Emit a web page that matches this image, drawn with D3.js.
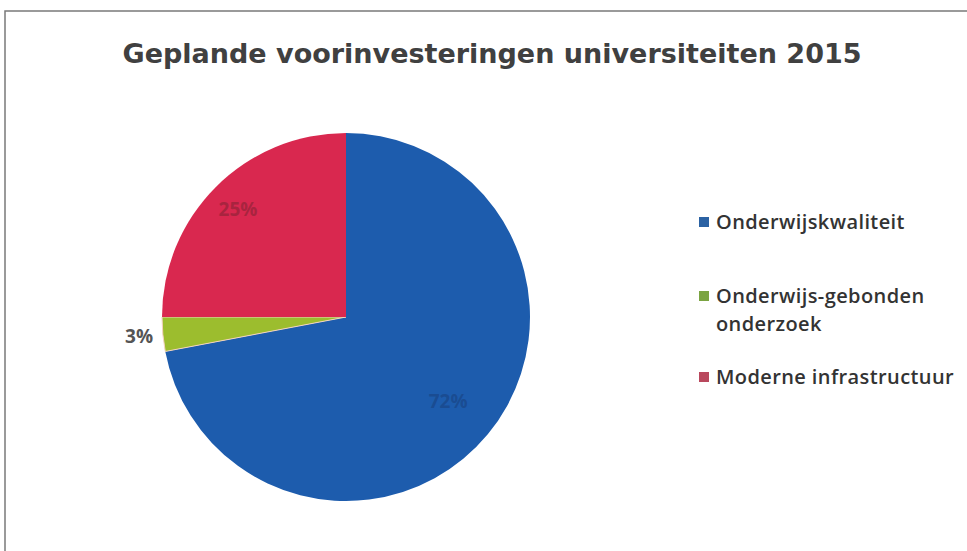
<!DOCTYPE html>
<html>
<head>
<meta charset="utf-8">
<script src="https://cdn.jsdelivr.net/npm/d3@7/dist/d3.min.js"></script>
<style>
  body { margin: 0; background: #fff; }
  svg { display: block; }
</style>
</head>
<body>
<svg id="chart" width="967" height="551"></svg>
<script>
var categories = ["Onderwijskwaliteit", "Onderwijs-gebonden onderzoek", "Moderne infrastructuur"];
var values = [72, 3, 25];
var legendLines = [["Onderwijskwaliteit"], ["Onderwijs-gebonden", "onderzoek"], ["Moderne infrastructuur"]];
var sliceColors = ["#1d5cad", "#9cbd2e", "#d9284f"];
var swatchColors = ["#2b62a3", "#7ba442", "#b9485d"];

var svg = d3.select("#chart");

// frame of the scanned chart
svg.append("path")
  .attr("d", "M5,551 L5,11 L967,11")
  .attr("fill", "none")
  .attr("stroke", "#7a7a7a")
  .attr("stroke-width", 1.5);

svg.append("text")
  .attr("x", 492)
  .attr("y", 63)
  .attr("text-anchor", "middle")
  .attr("font-family", "DejaVu Sans, Verdana, sans-serif")
  .attr("font-weight", "bold")
  .attr("font-size", 27)
  .attr("fill", "#404040")
  .text("Geplande voorinvesteringen universiteiten 2015");

var cx = 346, cy = 317, radius = 184;

var pie = d3.pie().sort(null).value(function (d) { return d; });
var arcs = pie(values);
var arc = d3.arc().innerRadius(0).outerRadius(radius);

var g = svg.append("g").attr("transform", "translate(" + cx + "," + cy + ")");

g.selectAll("path.slice")
  .data(arcs)
  .enter().append("path")
  .attr("class", "slice")
  .attr("d", arc)
  .attr("fill", function (d, i) { return sliceColors[i]; })
  .attr("stroke", function (d, i) { return i === 1 ? "#f3d2c0" : "none"; })
  .attr("stroke-width", 1);

// data labels
var labelRadius = [0.72, 1.13, 0.83];
var labelColors = ["#1a4c92", "#555555", "#a8243f"];

g.selectAll("text.pct")
  .data(arcs)
  .enter().append("text")
  .attr("class", "pct")
  .attr("transform", function (d, i) {
    var a = (d.startAngle + d.endAngle) / 2;
    var r = radius * labelRadius[i];
    return "translate(" + (Math.sin(a) * r) + "," + (-Math.cos(a) * r) + ")";
  })
  .attr("text-anchor", "middle")
  .attr("dy", "0.35em")
  .attr("font-family", "Open Sans, sans-serif")
  .attr("font-weight", "bold")
  .attr("font-size", 19)
  .attr("fill", function (d, i) { return labelColors[i]; })
  .text(function (d) { return d.data + "%"; });

// legend
var legendY = [222, 296, 377];
var legend = svg.append("g");

var items = legend.selectAll("g.item")
  .data(categories)
  .enter().append("g")
  .attr("class", "item")
  .attr("transform", function (d, i) { return "translate(699," + legendY[i] + ")"; });

items.append("rect")
  .attr("x", 0)
  .attr("y", -5)
  .attr("width", 10)
  .attr("height", 10)
  .attr("fill", function (d, i) { return swatchColors[i]; });

// each legend line is its own text element
items.each(function (d, i) {
  var item = d3.select(this);
  legendLines[i].forEach(function (line, j) {
    item.append("text")
      .attr("x", 17)
      .attr("y", j * 28)
      .attr("dy", "0.35em")
      .attr("font-family", "Open Sans, sans-serif")
      .attr("font-weight", 600)
      .attr("font-size", 20)
      .attr("letter-spacing", 0.4)
      .attr("fill", "#333")
      .text(line);
  });
});
</script>
</body>
</html>
